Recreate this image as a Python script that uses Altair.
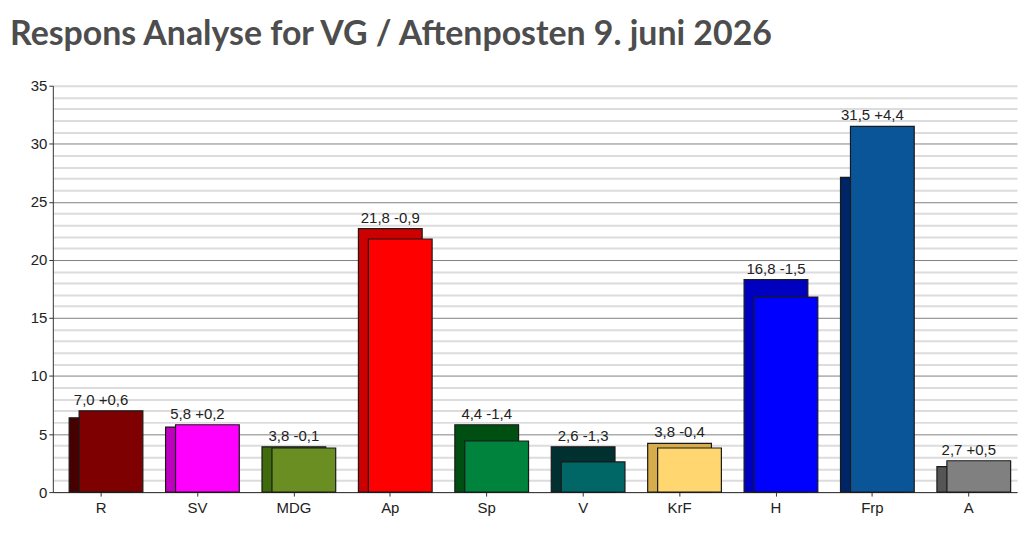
import pandas as pd
import altair as alt

# Party results (current poll) and change vs. previous poll
parties = ['R', 'SV', 'MDG', 'Ap', 'Sp', 'V', 'KrF', 'H', 'Frp', 'A']
current = [7.0, 5.8, 3.8, 21.8, 4.4, 2.6, 3.8, 16.8, 31.5, 2.7]
change = [0.6, 0.2, -0.1, -0.9, -1.4, -1.3, -0.4, -1.5, 4.4, 0.5]

colors_now = ['#7f0000', '#ff00ff', '#6b8e23', '#ff0000', '#00843d',
              '#006666', '#ffd670', '#0000ff', '#0a5598', '#808080']
colors_prev = ['#470000', '#c000c0', '#3f6b0c', '#cc0000', '#004f12',
               '#003030', '#d6ac4c', '#0000c0', '#002566', '#555555']

y_ticks = list(range(0, 36))


def fmt(v, sign=False):
    s = f'{v:+.1f}' if sign else f'{v:.1f}'
    return s.replace('.', ',')


df = pd.DataFrame({
    'party': parties,
    'current': current,
    'change': change,
    'c_now': colors_now,
    'c_prev': colors_prev,
})
df['previous'] = (df['current'] - df['change']).round(1)
df['top'] = df[['current', 'previous']].max(axis=1)
df['label'] = [f'{fmt(c)} {fmt(d, True)}' for c, d in zip(current, change)]

x = alt.X('party:N', sort=parties, title=None,
          scale=alt.Scale(paddingInner=0, paddingOuter=0, round=False),
          axis=alt.Axis(labelAngle=0, labelFont='Liberation Sans', labelFontSize=15,
                        labelColor='#222', domainColor='#333', tickColor='#333',
                        tickSize=4, labelPadding=4, grid=False))

major = 'datum.value % 5 === 0 && datum.value < 35'
y_axis = alt.Axis(
    values=y_ticks,
    labelExpr="datum.value % 5 === 0 ? datum.label : ''",
    labelOverlap=False,
    labelFont='Liberation Sans', labelFontSize=15, labelColor='#222',
    domainColor='#333', tickSize=4, labelPadding=2,
    tickColor=alt.condition('datum.value % 5 === 0', alt.value('#333'), alt.value('transparent')),
    gridColor=alt.condition(major, alt.value('#808080'), alt.value('#dcdcdc')),
    gridWidth=alt.condition(major, alt.value(1), alt.value(2)),
)
y_scale = alt.Scale(domain=[0, 35], nice=False)

base = alt.Chart(df)

prev_bars = base.mark_bar(width=64, stroke='#1a1a1a', strokeWidth=1.2).encode(
    x=x,
    y=alt.Y('previous:Q', scale=y_scale, axis=y_axis, title=None),
    color=alt.Color('c_prev:N', scale=None),
)

now_bars = base.mark_bar(width=64, xOffset=10, stroke='#1a1a1a', strokeWidth=1.2).encode(
    x=x,
    y=alt.Y('current:Q', scale=y_scale, axis=y_axis, title=None),
    color=alt.Color('c_now:N', scale=None),
)

labels = base.mark_text(baseline='alphabetic', dy=-6, font='Liberation Sans',
                        fontSize=15, color='#222').encode(
    x=x,
    y=alt.Y('top:Q', scale=y_scale, axis=y_axis, title=None),
    text='label:N',
)

chart = (prev_bars + now_bars + labels).properties(
    width=968,
    height=408,
    autosize=alt.AutoSizeParams(type='none'),
    padding={'left': 45, 'top': 77, 'right': 4, 'bottom': 30},
    title=alt.TitleParams(
        text='Respons Analyse for VG / Aftenposten 9. juni 2026',
        anchor='start', frame='group', dx=-43,
        font='Lato', fontWeight='bold', fontSize=34, color='#4d4d4d',
        offset=27,
    ),
).configure_view(stroke=None)

chart.save('out.html', embed_options={'renderer': 'svg', 'actions': False})
